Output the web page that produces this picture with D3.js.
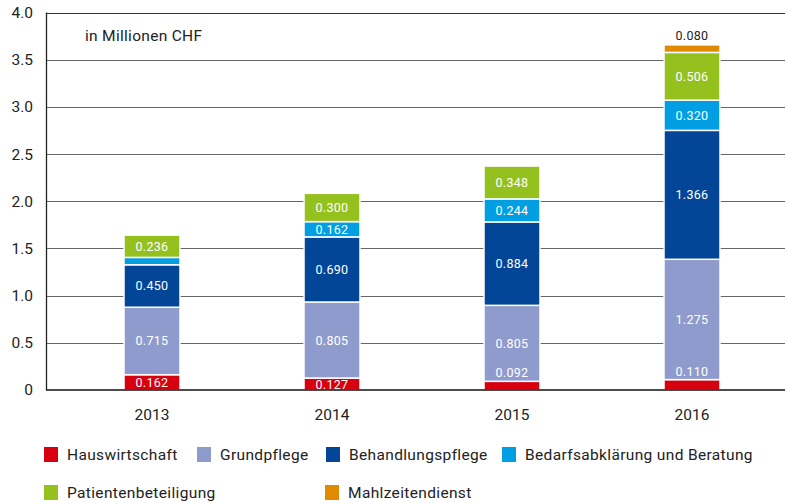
<!DOCTYPE html>
<html>
<head>
<meta charset="utf-8">
<script src="https://cdn.jsdelivr.net/npm/d3@7"></script>
<style>
  body { margin: 0; background: #fff; }
  svg { display: block; font-family: Roboto, "DejaVu Sans", sans-serif; }
</style>
</head>
<body>
<svg id="chart" width="787" height="503"></svg>
<script>
// data (in Millionen CHF)
var years = ["2013", "2014", "2015", "2016"];
var series = ["Hauswirtschaft", "Grundpflege", "Behandlungspflege", "Bedarfsabklärung und Beratung", "Patientenbeteiligung", "Mahlzeitendienst"];
var hauswirtschaft = [0.162, 0.127, 0.092, 0.110];
var grundpflege = [0.715, 0.805, 0.805, 1.275];
var behandlungspflege = [0.450, 0.690, 0.884, 1.366];
var bedarfsabklaerung = [0.078, 0.162, 0.244, 0.320];
var patientenbeteiligung = [0.236, 0.300, 0.348, 0.506];
var mahlzeitendienst = [0, 0, 0, 0.080];
var colors = ["#d7000f", "#8f9bcc", "#034698", "#009fe3", "#95c11f", "#e08a00"];
var yTicks = [0, 0.5, 1.0, 1.5, 2.0, 2.5, 3.0, 3.5, 4.0];

var table = years.map(function(yr, i) {
  return {
    year: yr,
    "Hauswirtschaft": hauswirtschaft[i],
    "Grundpflege": grundpflege[i],
    "Behandlungspflege": behandlungspflege[i],
    "Bedarfsabklärung und Beratung": bedarfsabklaerung[i],
    "Patientenbeteiligung": patientenbeteiligung[i],
    "Mahlzeitendienst": mahlzeitendienst[i]
  };
});

var svg = d3.select("#chart");
var plotLeft = 46, plotRight = 785, plotTop = 12.5, plotBottom = 390;

var x = d3.scaleBand().domain(years).range([62, 782]).paddingInner(0.689).paddingOuter(0.3445);
var y = d3.scaleLinear().domain([0, 4]).range([plotBottom, plotTop]);
var color = d3.scaleOrdinal().domain(series).range(colors);

// gridlines
svg.append("g").selectAll("line")
  .data(yTicks.filter(function(t) { return t > 0; }))
  .enter().append("line")
  .attr("x1", plotLeft).attr("x2", plotRight)
  .attr("y1", function(d) { return Math.round(y(d)) + 0.5; })
  .attr("y2", function(d) { return Math.round(y(d)) + 0.5; })
  .attr("stroke", function(d) { return d == 4 ? "#333" : "#666"; })
  .attr("stroke-width", 1.2);

// y axis labels
var yAxis = svg.append("g")
  .attr("transform", "translate(" + plotLeft + ",0)")
  .call(d3.axisLeft(y).tickValues(yTicks).tickSize(0).tickPadding(13)
    .tickFormat(function(d) { return d == 0 ? "0" : d3.format(".1f")(d); }));
yAxis.select(".domain").remove();
yAxis.selectAll("text").attr("font-size", 15.5).attr("fill", "#222").attr("font-family", "Roboto");

svg.append("line")
  .attr("x1", plotLeft + 0.5).attr("x2", plotLeft + 0.5)
  .attr("y1", plotTop).attr("y2", plotBottom)
  .attr("stroke", "#222").attr("stroke-width", 1.3);

svg.append("text")
  .attr("x", 85).attr("y", 41)
  .attr("font-size", 15.5).attr("letter-spacing", 0.3).attr("fill", "#222")
  .text("in Millionen CHF");

// stacked bars
var stack = d3.stack().keys(series)(table);

var layers = svg.append("g").selectAll("g")
  .data(stack).enter().append("g")
  .attr("fill", function(d) { return color(d.key); });

layers.selectAll("rect")
  .data(function(d) { return d.filter(function(s) { return s[1] - s[0] > 0; }); })
  .enter().append("rect")
  .attr("x", function(d) { return x(d.data.year); })
  .attr("width", x.bandwidth())
  .attr("y", function(d) { return y(d[1]); })
  .attr("height", function(d) { return y(d[0]) - y(d[1]); })
  .attr("stroke", "#fff")
  .attr("stroke-width", 1.5);

// baseline
svg.append("line")
  .attr("x1", plotLeft).attr("x2", plotRight)
  .attr("y1", plotBottom).attr("y2", plotBottom)
  .attr("stroke", "#111").attr("stroke-width", 1.6);

// value labels
stack.forEach(function(layer, li) {
  layer.forEach(function(d) {
    var v = d[1] - d[0];
    if (v <= 0) return;
    var h = y(d[0]) - y(d[1]);
    var cx = x(d.data.year) + x.bandwidth() / 2;
    var t = svg.append("text")
      .attr("x", cx)
      .attr("text-anchor", "middle")
      .attr("font-size", 12.5)
      .attr("letter-spacing", 0.3)
      .text(d3.format(".3f")(v));
    if (h >= 11) {
      t.attr("y", (y(d[0]) + y(d[1])) / 2).attr("dy", "0.36em").attr("fill", "#fff");
    } else if (li == 0) {
      t.attr("y", y(d[1]) - 4).attr("fill", "#fff");
    } else if (li == stack.length - 1) {
      t.attr("y", y(d[1]) - 5).attr("fill", "#222");
    } else {
      t.remove();
    }
  });
});

// x labels
svg.append("g").selectAll("text")
  .data(years).enter().append("text")
  .attr("x", function(d) { return x(d) + x.bandwidth() / 2; })
  .attr("y", 420)
  .attr("text-anchor", "middle")
  .attr("font-size", 15.5).attr("fill", "#222")
  .text(function(d) { return d; });

// legend
var legendPos = [[44, 447], [197, 447], [326, 447], [502, 447], [44, 485], [325, 485]];
var legend = svg.append("g").selectAll("g")
  .data(series).enter().append("g")
  .attr("transform", function(d, i) { return "translate(" + legendPos[i][0] + "," + legendPos[i][1] + ")"; });
legend.append("rect")
  .attr("width", 14).attr("height", 15)
  .attr("fill", function(d) { return color(d); });
legend.append("text")
  .attr("x", 23).attr("y", 13)
  .attr("font-size", 15.5).attr("letter-spacing", 0.35).attr("fill", "#222")
  .text(function(d) { return d; });
</script>
</body>
</html>
